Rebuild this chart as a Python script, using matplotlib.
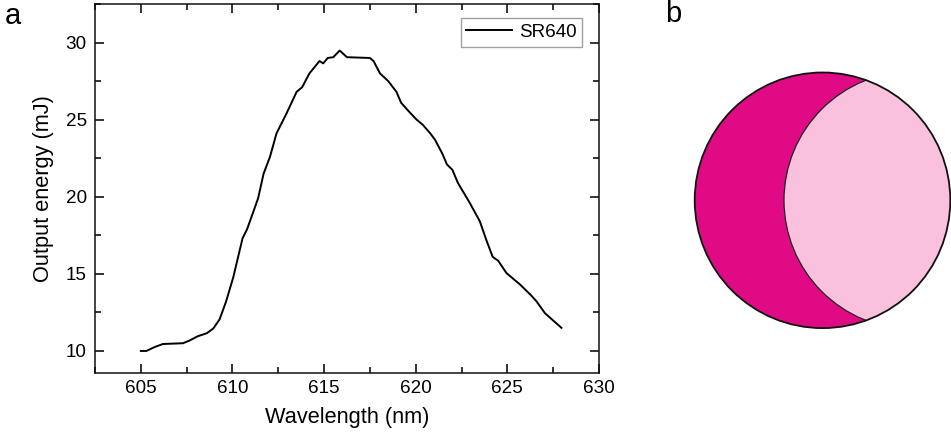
import matplotlib
matplotlib.use("Agg")
import matplotlib.pyplot as plt
from matplotlib.patches import Circle
from matplotlib.ticker import MultipleLocator

plt.rcParams['font.family'] = ['Liberation Sans', 'DejaVu Sans']

wavelength = [605.0, 605.3, 605.75, 606.2, 607.3, 607.65, 608.1, 608.6, 608.95,
              609.3, 609.65, 610.05, 610.55, 610.8, 611.1, 611.4, 611.7, 612.05,
              612.4, 612.95, 613.5, 613.8, 614.2, 614.75, 614.95, 615.2, 615.5,
              615.85, 616.25, 617.5, 617.7, 618.05, 618.5, 618.95, 619.2, 619.65,
              620.05, 620.4, 620.8, 621.05, 621.45, 621.7, 622.0, 622.3, 622.95,
              623.5, 623.85, 624.2, 624.5, 624.95, 625.7, 626.3, 626.6, 627.05,
              627.95]
energy = [10.0, 10.0, 10.25, 10.45, 10.5, 10.67, 10.95, 11.15, 11.45,
          12.05, 13.2, 14.8, 17.3, 17.9, 18.9, 19.9, 21.5, 22.6,
          24.1, 25.4, 26.8, 27.1, 28.0, 28.8, 28.65, 29.0, 29.05,
          29.48, 29.05, 29.0, 28.8, 28.0, 27.5, 26.8, 26.1, 25.5,
          25.0, 24.65, 24.1, 23.7, 22.8, 22.1, 21.75, 20.9, 19.6,
          18.4, 17.2, 16.1, 15.85, 15.05, 14.3, 13.6, 13.2, 12.45,
          11.5]
series_label = "SR640"
x_ticks = [605, 610, 615, 620, 625, 630]
y_ticks = [10, 15, 20, 25, 30]

W, H = 951, 433
fig = plt.figure(figsize=(W / 100, H / 100), dpi=100)

ax = fig.add_axes([95 / W, 1 - 373 / H, 504 / W, 369 / H])
ax.plot(wavelength, energy, color='black', lw=1.4, label=series_label,
        solid_joinstyle='round')
ax.set_xlim(602.5, 630)
ax.set_ylim(8.57, 32.5)
ax.set_xticks(x_ticks)
ax.set_yticks(y_ticks)
ax.xaxis.set_minor_locator(MultipleLocator(2.5))
ax.yaxis.set_minor_locator(MultipleLocator(2.5))
ax.tick_params(which='both', direction='in', top=True, right=True,
               labelsize=13.6, width=1.2, color='#111111')
ax.tick_params(which='major', length=6.5)
ax.tick_params(which='minor', length=4)
ax.tick_params(axis='x', pad=5)
ax.tick_params(axis='y', pad=6)
for s in ax.spines.values():
    s.set_linewidth(1.1)
    s.set_color('#111111')
ax.set_xlabel("Wavelength (nm)", fontsize=15.7, labelpad=7)
ax.set_ylabel("Output energy (mJ)", fontsize=15.7, labelpad=8)
leg = ax.legend(loc='upper right', fontsize=13.6, frameon=True, fancybox=False,
                handlelength=2.4, borderpad=0.3, handletextpad=0.4,
                bbox_to_anchor=(0.967, 0.962), borderaxespad=0)
leg.get_frame().set_edgecolor('#888888')
leg.get_frame().set_linewidth(1.0)

fig.text(5 / W, 1 - 2 / H, "a", fontsize=21, va='top', ha='left')
fig.text(665 / W, 1 - 0 / H, "b", fontsize=21, va='top', ha='left')

# Panel b: two overlapping circles, the overlap shown in light pink
bx = fig.add_axes([0, 0, 1, 1], zorder=-1)
bx.set_xlim(0, W)
bx.set_ylim(H, 0)
bx.axis('off')
outer = Circle((822.5, 200.3), 127.8, facecolor='#E00A85', edgecolor='none')
bx.add_patch(outer)
inner = Circle((913.0, 200.3), 129.0, facecolor='#F9C1DD', edgecolor='#222222', lw=0.9)
bx.add_patch(inner)
inner.set_clip_path(outer)
bx.add_patch(Circle((822.5, 200.3), 127.8, facecolor='none', edgecolor='#111111', lw=1.3))

fig.savefig("out.png", dpi=100)
